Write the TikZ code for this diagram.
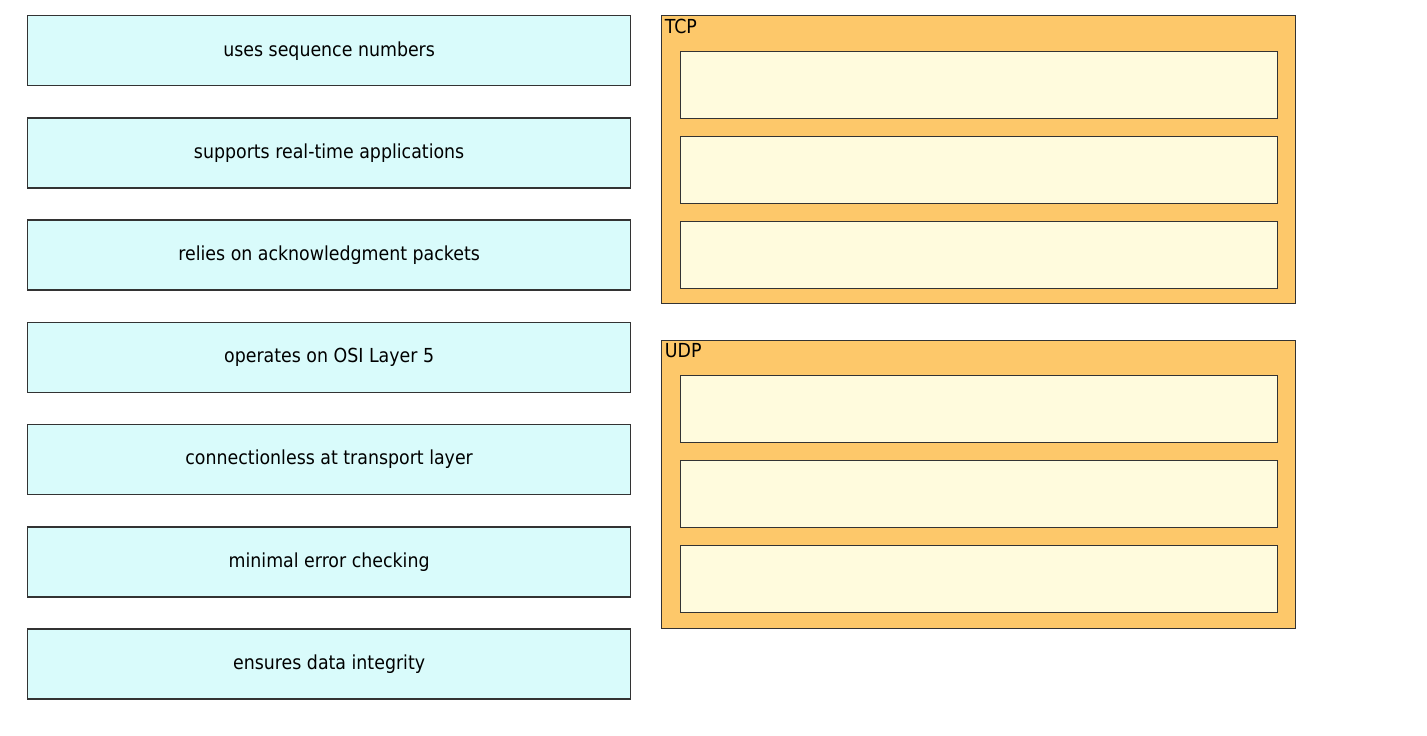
\documentclass[tikz,border=0pt]{standalone}
\usepackage{fontspec}
\setmainfont{DejaVu Sans Condensed}
\usetikzlibrary{positioning}
\definecolor{itemfill}{HTML}{D9FBFB}
\definecolor{groupfill}{HTML}{FDC86A}
\definecolor{slotfill}{HTML}{FFFBDD}
\definecolor{edgegray}{HTML}{333333}
\tikzset{
x=0.02cm, y=-0.02cm, % one unit is one pixel of the screen shot
node distance=0.617cm, % gap between the answer boxes
item/.style={draw=edgegray, fill=itemfill, line width=0.8pt, minimum width=12.06cm, minimum height=1.4cm, font=\fontsize{11}{13}\selectfont}, % answer boxes on the left
group/.style={draw=edgegray, fill=groupfill, line width=0.8pt, minimum width=12.68cm, minimum height=5.76cm, anchor=north west}, % TCP and UDP frames
slot/.style={draw=edgegray, fill=slotfill, line width=0.8pt, minimum width=11.94cm, minimum height=1.34cm}, % empty drop places
grouplabel/.style={anchor=north west, inner sep=2pt, font=\fontsize{11}{13}\selectfont},
}

\begin{document}
\begin{tikzpicture}
        \useasboundingbox (0,0) rectangle (1427,736);

        % answers
        \node[item, anchor=north west] (seq) at (27,15) {uses sequence numbers};
        \node[item, below=of seq] (realtime) {supports real-time applications};
        \node[item, below=of realtime] (ack) {relies on acknowledgment packets};
        \node[item, below=of ack] (layer) {operates on OSI Layer 5};
        \node[item, below=of layer] (connless) {connectionless at transport layer};
        \node[item, below=of connless] (minerr) {minimal error checking};
        \node[item, below=of minerr] (integrity) {ensures data integrity};

        % TCP
        \node[group] (tcp) at (661,15) {};
        \node[grouplabel] (tcplabel) at (tcp.north west) {TCP};
        \node[slot, anchor=north west] (tcp1) at (680,51) {};
        \node[slot, below=0.33cm of tcp1] (tcp2) {};
        \node[slot, below=0.33cm of tcp2] (tcp3) {};

        % UDP
        \node[group] (udp) at (661,340) {};
        \node[grouplabel] (udplabel) at (udp.north west) {UDP};
        \node[slot, anchor=north west] (udp1) at (680,375) {};
        \node[slot, below=0.33cm of udp1] (udp2) {};
        \node[slot, below=0.33cm of udp2] (udp3) {};
      \end{tikzpicture}
\end{document}
